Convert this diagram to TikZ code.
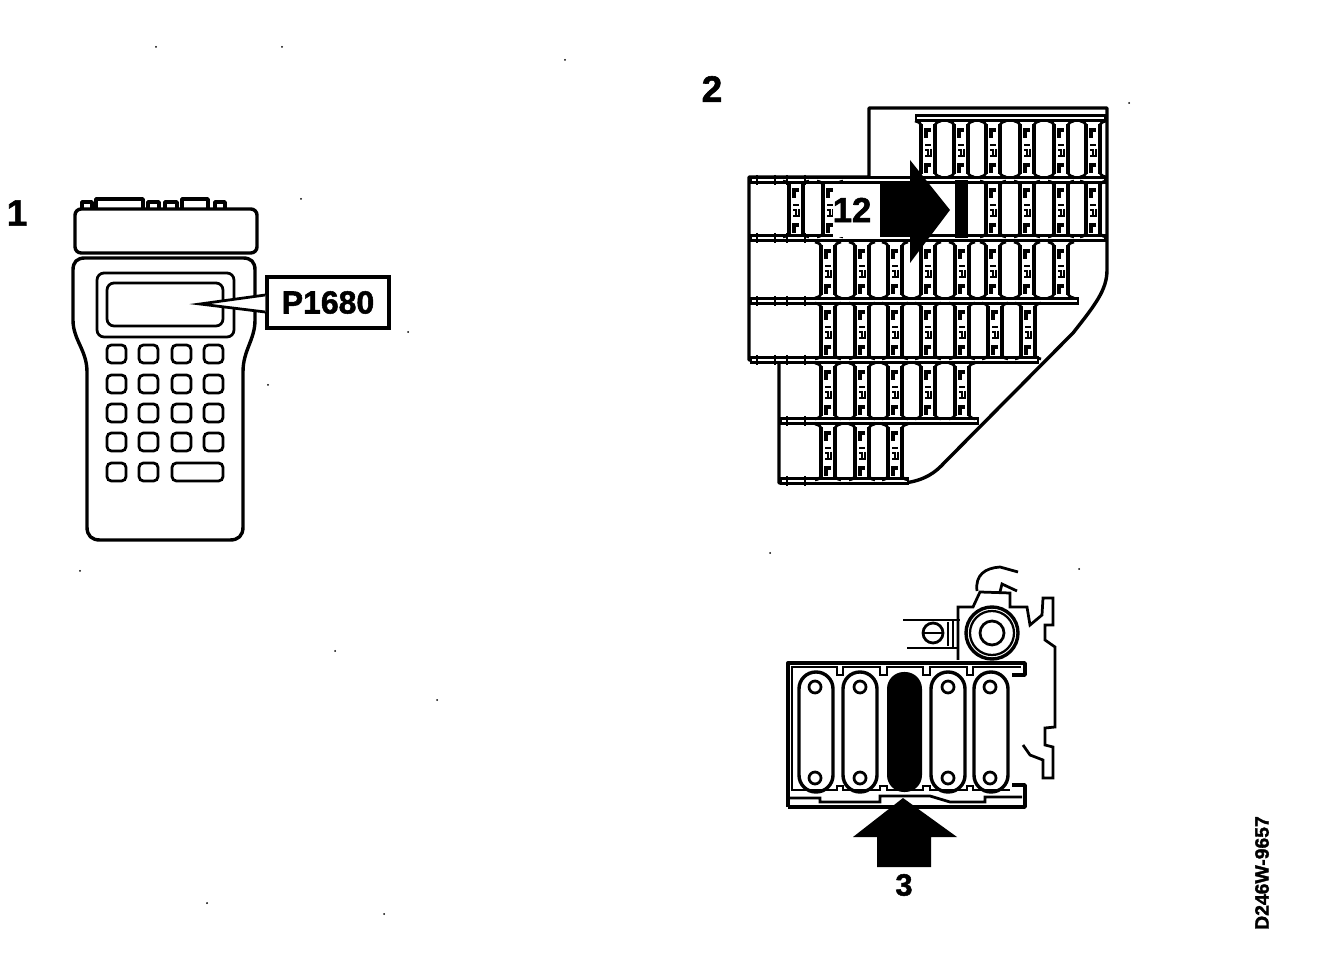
\documentclass[tikz,border=0pt]{standalone}
\usepackage{fontspec}
\setmainfont[BoldFeatures={FakeBold=1.6}]{Liberation Sans}
\newcommand{\fusecell}{%
\draw[fuseline] (-7,5) -- (-7,55);
\draw[fuseline] (7,5) -- (7,55);
\draw[flareline] (-7,8) .. controls (-7,4) and (-9,3) .. (-13,2);
\draw[flareline] (7,8) .. controls (7,4) and (9,3) .. (13,2);
\draw[flareline] (-7,52) .. controls (-7,56) and (-9,57) .. (-13,58);
\draw[flareline] (7,52) .. controls (7,56) and (9,57) .. (13,58);
\draw[markline] (-2,19) -- (-2,11) -- (3,11);
\draw[markline] (-2,54) -- (-2,46) -- (3,46);
\draw[thinline] (-3,26) -- (3,26) (-3,31) -- (0,31) -- (0,36) (3,30) -- (3,37) -- (-3,37);
}
\newcommand{\rail}[3]{\draw[railline] (#1,#3-2.5) rectangle (#2,#3+2.5);}
\tikzset{
bodyline/.style={line width=0.68mm, line join=round},
keyline/.style={line width=0.55mm, rounded corners=2.5pt},
fuseline/.style={line width=0.85mm},
flareline/.style={line width=0.55mm},
markline/.style={line width=0.7mm},
thinline/.style={line width=0.38mm},
railline/.style={line width=0.42mm, fill=white},
label/.style={font=\bfseries\fontsize{21}{23}\selectfont, inner sep=0pt},
}
\begin{document}
\begin{tikzpicture}[x=0.2mm, y=-0.2mm]
\useasboundingbox (0,0) rectangle (1328,966);
% Hand-held tester
\node[label] (one) at (17,213) {1};
\draw[bodyline] (82,209) -- (82,202) -- (92,202) -- (92,209);
\draw[bodyline] (96,209) -- (96,199) -- (143,199) -- (143,209);
\draw[bodyline] (148,209) -- (148,202) -- (159,202) -- (159,209);
\draw[bodyline] (165,209) -- (165,202) -- (177,202) -- (177,209);
\draw[bodyline] (182,209) -- (182,199) -- (208,199) -- (208,209);
\draw[bodyline] (215,209) -- (215,202) -- (225,202) -- (225,209);
\draw[bodyline, rounded corners=3.5pt] (75,209) rectangle (257,253);
\draw[bodyline] (85,258) -- (243,258) .. controls (251,258) and (255,262) .. (255,270)
  -- (255,320) .. controls (255,340) and (243,350) .. (243,372) -- (243,527)
  .. controls (243,536) and (238,540) .. (230,540) -- (100,540)
  .. controls (92,540) and (87,536) .. (87,527) -- (87,372)
  .. controls (87,350) and (73,340) .. (73,320) -- (73,270)
  .. controls (73,262) and (77,258) .. (85,258) -- cycle;
\draw[keyline, rounded corners=4pt] (97,273) rectangle (234,337);
\draw[keyline, rounded corners=4pt] (107,283) rectangle (223,326);
\foreach \y in {345,375,404,433} {
  \foreach \x in {107,139,172,204} {
    \draw[keyline] (\x,\y) rectangle ++(19,18);
  }
}
\draw[keyline] (107,463) rectangle ++(19,18);
\draw[keyline] (139,463) rectangle ++(19,18);
\draw[keyline] (172,463) rectangle (223,481);
% Code readout
\node[draw, fill=white, line width=0.68mm, minimum width=24.4mm, minimum height=10.2mm, inner sep=0pt,
  font=\bfseries\fontsize{18.2}{20}\selectfont] (code) at (328,302.5) {P1680};
\coordinate (tip) at (200,304);
\draw[fill=white, line width=0.55mm] ([yshift=1.5mm]code.west) -- (tip) -- ([yshift=-1.9mm]code.west);
% Fuse box
\node[label] (two) at (712,89) {2};
\draw[bodyline] (869,177) -- (869,108) -- (1107,108) -- (1107,270)
  .. controls (1107,290) and (1095,305) .. (1073,333) -- (945,462)
  .. controls (935,473) and (925,480) .. (905,483) -- (779,483) -- (779,360) -- (749,360)
  -- (749,177) -- cycle;
\rail{916}{1105}{118}
\rail{751}{1105}{180}
\rail{751}{1105}{238}
\rail{751}{1078}{301}
\rail{751}{1038}{360}
\rail{781}{978}{421}
\rail{781}{908}{481}
% studs on the rails
\foreach \x/\y in {757/180,775/180,787/180,805/180,757/238,775/238,787/238,805/238,757/301,775/301,787/301,805/301,757/360,775/360,787/360,805/360,787/421,805/421,787/481,805/481} {
  \draw[thinline] (\x,\y-5) -- (\x,\y+5);
}
\foreach \x in {928,961,993,1027,1061,1093} {
  \begin{scope}[shift={(\x,119)}] \fusecell \end{scope}
}
\foreach \x in {796,830,993,1027,1061,1093} {
  \begin{scope}[shift={(\x,179)}] \fusecell \end{scope}
}
\foreach \x in {828,862,895,928,962,993,1027,1061} {
  \begin{scope}[shift={(\x,240)}] \fusecell \end{scope}
}
\foreach \x in {828,862,895,928,962,995,1028} {
  \begin{scope}[shift={(\x,301)}] \fusecell \end{scope}
}
\foreach \x in {828,862,895,928,962} {
  \begin{scope}[shift={(\x,361)}] \fusecell \end{scope}
}
\foreach \x in {828,862,895} {
  \begin{scope}[shift={(\x,422)}] \fusecell \end{scope}
}
\fill (955,180) rectangle (968,238);
\fill[white] (833,184) rectangle (880,237);
\node[label, font=\bfseries\fontsize{19.8}{22}\selectfont] (twelve) at (852,210) {12};
\fill (880,184) -- (910,184) -- (910,160) -- (950,210) -- (910,263) -- (910,237) -- (880,237) -- cycle;
% Cylinder head, top view
\draw[bodyline] (788,807) -- (788,663) -- (1025,663) -- (1025,675) -- (1012,675);
\draw[bodyline] (788,807) -- (1025,807) -- (1025,785) -- (1012,785);
\draw[keyline, rounded corners=0pt] (792,680) -- (792,667) -- (837,667) -- (837,675) -- (843,675) -- (843,667) -- (880,667) -- (880,675)
  -- (887,675) -- (887,667) -- (923,667) -- (923,675) -- (930,675) -- (930,667) -- (967,667) -- (967,675)
  -- (973,675) -- (973,667) -- (1021,667);
\draw[keyline, rounded corners=0pt] (792,680) -- (792,790) -- (837,790) -- (837,786) -- (843,786) -- (843,790) -- (880,790) -- (880,786)
  -- (887,786) -- (887,790) -- (923,790) -- (923,786) -- (930,786) -- (930,790) -- (967,790) -- (967,786)
  -- (973,786) -- (973,790) -- (1010,790);
\draw[keyline, rounded corners=0pt] (790,798) -- (820,798) -- (820,802) -- (880,802) -- (880,796) -- (930,796) -- (950,802) -- (985,802)
  -- (985,797) -- (1022,797);
\foreach \x in {799,843,931,974} {
  \draw[bodyline, rounded corners=9.6pt] (\x,672) rectangle ++(34,120);
}
\fill[rounded corners=9.6pt] (887,672) rectangle (922,792);
\foreach \x in {815,860,948,990} {
  \draw[keyline] (\x,687) circle (6);
  \draw[keyline] (\x,778) circle (6);
}
\draw[keyline, rounded corners=0pt] (1023,745) -- (1030,755) -- (1043,760) -- (1043,778) -- (1053,778) -- (1053,747)
  -- (1045,745) -- (1045,728) -- (1055,727) -- (1055,647) -- (1045,640) -- (1045,625) -- (1053,625) -- (1053,598)
  -- (1043,598) -- (1042,615) -- (1030,625) -- (1027,607) -- (1010,607) -- (1010,593) -- (980,592)
  -- (973,607) -- (958,607) -- (958,660);
% Pump and pipe
\draw[bodyline, fill=white] (992,633) circle (26);
\draw[thinline, line width=0.45mm] (992,633) circle (22);
\draw[keyline] (992,633) circle (12);
\draw[keyline] (903,620) -- (960,620);
\draw[keyline] (907,648) -- (958,648);
\draw[keyline] (933,633) circle (10);
\draw[keyline, rounded corners=0pt] (923,633) -- (943,633) (948,622) -- (948,646) (953,620) -- (953,648);
\draw[keyline, rounded corners=0pt] (977,591) .. controls (975,575) and (985,568) .. (1000,567) -- (1018,572);
\draw[keyline, rounded corners=0pt] (1000,592) -- (1002,584) -- (1017,591);
% Arrow to the marked cylinder
\fill (903,798) -- (957,837) -- (931,837) -- (931,867) -- (877,867) -- (877,837) -- (853,837) -- cycle;
\node[label, font=\bfseries\fontsize{17.5}{19}\selectfont] (three) at (904,885) {3};
% Drawing number
\node[inner sep=0pt, rotate=90, font=\bfseries\fontsize{11}{13}\selectfont] (number) at (1262,873) {D246W-9657};
% Scan specks
\foreach \x/\y in {156/47,282/47,565/60,1129/103,80/571,335/651,437/700,207/903,384/914,1079/569,770/553,408/332,268/385,301/199} {
  \fill (\x,\y) circle (1);
}
\end{tikzpicture}
\end{document}
